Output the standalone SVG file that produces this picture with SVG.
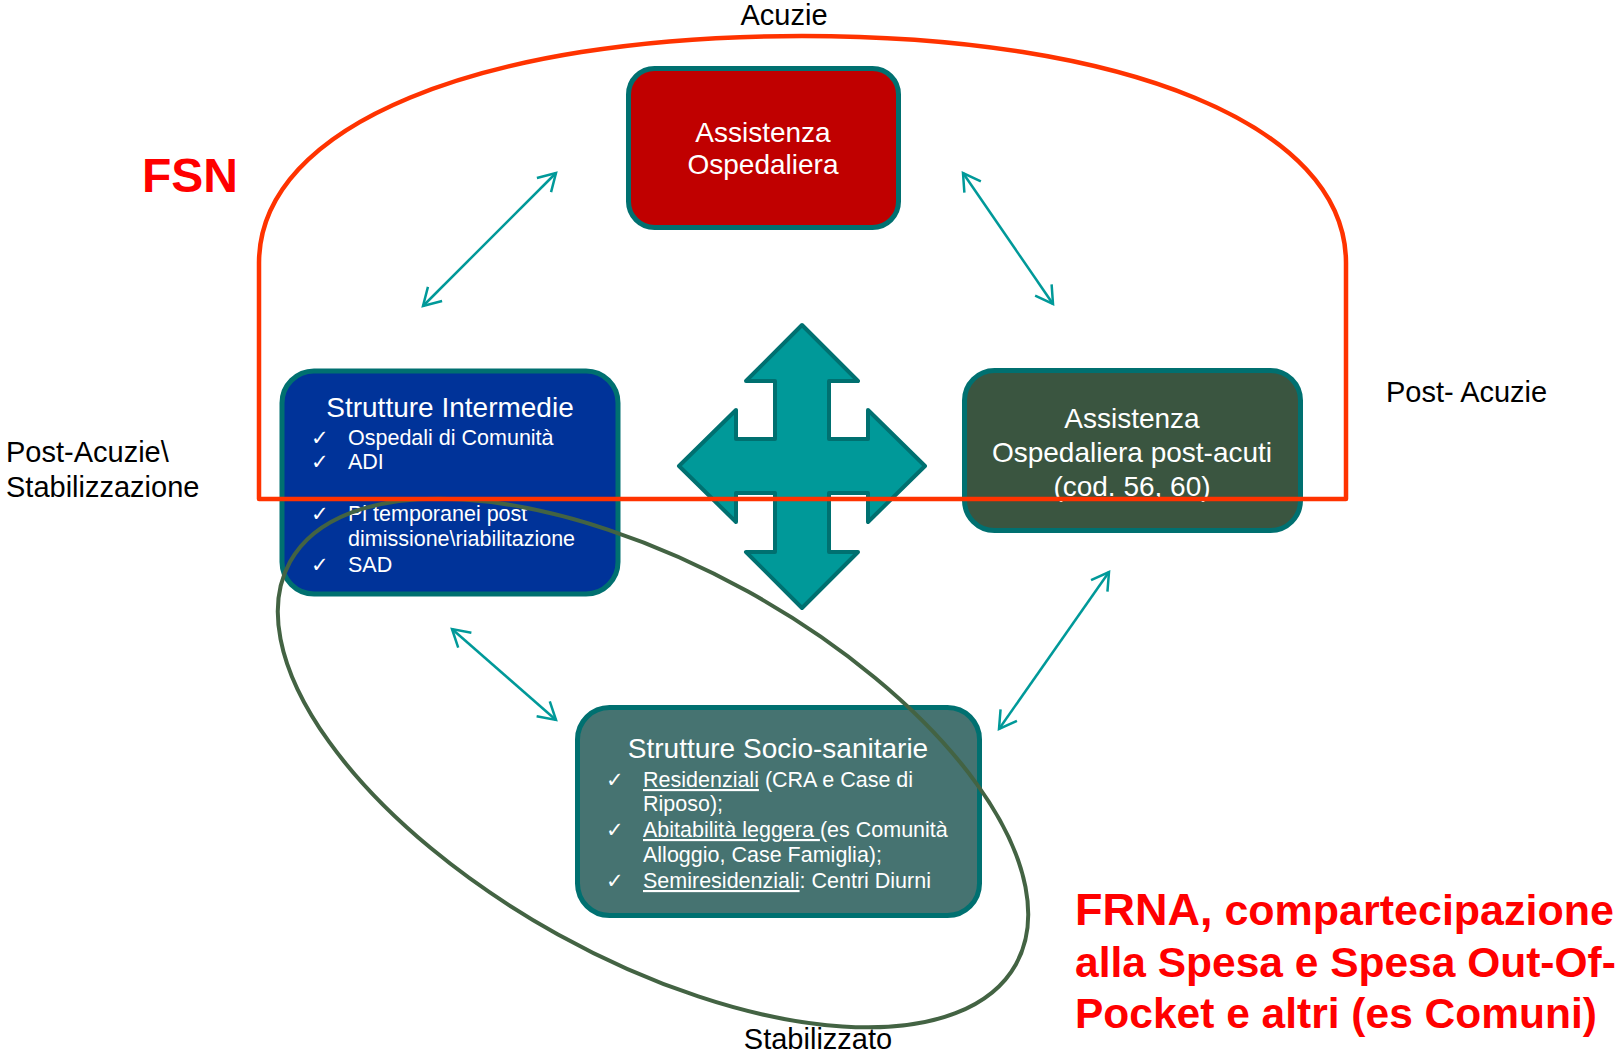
<svg xmlns="http://www.w3.org/2000/svg" width="1618" height="1056" viewBox="0 0 1618 1056">
<style>
.lbl{font-family:"Liberation Sans",Arial,sans-serif;font-size:29px;fill:#000}
.big{font-family:"Liberation Sans",Arial,sans-serif;font-weight:bold;fill:#FF0000}
.ttl{font-family:"Liberation Sans",Arial,sans-serif;font-size:28px;fill:#FFFFFF;text-anchor:middle}
.bul{font-family:"Liberation Sans",Arial,sans-serif;font-size:21.5px;fill:#FFFFFF}
.chk{font-family:"DejaVu Sans",sans-serif;font-size:21px;fill:#FFFFFF}
.box{stroke:#007070;stroke-width:5}
.conn{fill:none;stroke:#009999;stroke-width:2.5}
</style>
<defs>
<marker id="ah" markerUnits="userSpaceOnUse" markerWidth="24" markerHeight="24" refX="17" refY="10" orient="auto-start-reverse" viewBox="-2 -2 24 24">
<path d="M0,0 L17,10 L0,20" fill="none" stroke="#009999" stroke-width="2.5"/>
</marker>
<clipPath id="clipPl"><rect x="280" y="504" width="340" height="60"/></clipPath>
</defs>
<rect width="1618" height="1056" fill="#FFFFFF"/>

<g id="node-ospedaliera">
<rect class="box" x="628.5" y="68.5" width="270" height="159" rx="26" fill="#C00000"/>
<text class="ttl" x="763" y="142">Assistenza</text>
<text class="ttl" x="763" y="174">Ospedaliera</text>
</g>

<g id="node-intermedie">
<rect class="box" x="282" y="371" width="336" height="223" rx="32" fill="#003399"/>
<text class="ttl" x="450" y="417">Strutture Intermedie</text>
<text class="chk" x="311" y="445">✓</text><text class="bul" x="348" y="445">Ospedali di Comunità</text>
<text class="chk" x="311" y="469">✓</text><text class="bul" x="348" y="469">ADI</text>
<text class="chk" x="311" y="521">✓</text><text class="bul" x="348" y="521" clip-path="url(#clipPl)">Pl temporanei post</text>
<text class="bul" x="348" y="546">dimissione\riabilitazione</text>
<text class="chk" x="311" y="572">✓</text><text class="bul" x="348" y="572">SAD</text>
</g>

<g id="node-postacuti">
<rect class="box" x="964.5" y="370.5" width="336" height="160" rx="30" fill="#3A5540"/>
<text class="ttl" x="1132" y="428">Assistenza</text>
<text class="ttl" x="1132" y="462">Ospedaliera post-acuti</text>
<text class="ttl" x="1132" y="496">(cod. 56, 60)</text>
</g>

<g id="node-sociosanitarie">
<rect class="box" x="577.5" y="707.5" width="402" height="208" rx="32" fill="#467371"/>
<text class="ttl" x="778" y="758">Strutture Socio-sanitarie</text>
<text class="chk" x="606" y="787">✓</text><text class="bul" x="643" y="787"><tspan text-decoration="underline">Residenziali</tspan> (CRA e Case di</text>
<text class="bul" x="643" y="811">Riposo);</text>
<text class="chk" x="606" y="837">✓</text><text class="bul" x="643" y="837"><tspan text-decoration="underline">Abitabilità leggera </tspan>(es Comunità</text>
<text class="bul" x="643" y="862">Alloggio, Case Famiglia);</text>
<text class="chk" x="606" y="888">✓</text><text class="bul" x="643" y="888"><tspan text-decoration="underline">Semiresidenziali</tspan>: Centri Diurni</text>
</g>

<g id="node-cross">
<polygon points="802,325 858,381 829,381 829,439 868,439 868,410 925,466 868,522 868,493 829,493 829,552 858,552 802,608 746,552 775,552 775,493 736,493 736,522 679,466 736,410 736,439 775,439 775,381 746,381" fill="#009999" stroke="#007070" stroke-width="4" stroke-linejoin="round"/>
</g>

<g id="connectors">
<line class="conn" x1="423" y1="306" x2="556" y2="173" marker-start="url(#ah)" marker-end="url(#ah)"/>
<line class="conn" x1="963" y1="173" x2="1053" y2="304" marker-start="url(#ah)" marker-end="url(#ah)"/>
<line class="conn" x1="452" y1="629" x2="556" y2="720" marker-start="url(#ah)" marker-end="url(#ah)"/>
<line class="conn" x1="999" y1="729" x2="1109" y2="572" marker-start="url(#ah)" marker-end="url(#ah)"/>
</g>

<g id="area-stabilizzato">
<ellipse cx="653" cy="763" rx="415" ry="196" transform="rotate(29 653 763)" fill="none" stroke="#436343" stroke-width="4"/>
</g>

<g id="area-fsn">
<path d="M259,499 L259,263 C259,125 480,36 802,36 C1124,36 1346,125 1346,263 L1346,499 Z" fill="none" stroke="#FF3300" stroke-width="4.5" stroke-linejoin="round"/>
</g>

<g id="labels">
<text class="lbl" x="784" y="25" text-anchor="middle">Acuzie</text>
<text class="big" x="142" y="192" font-size="48">FSN</text>
<text class="lbl" x="1386" y="402">Post- Acuzie</text>
<text class="lbl" x="6" y="462">Post-Acuzie\</text>
<text class="lbl" x="6" y="497">Stabilizzazione</text>
<text class="lbl" x="818" y="1049" text-anchor="middle">Stabilizzato</text>
<text class="big" x="1075" y="925"><tspan font-size="45">FRNA,</tspan><tspan font-size="43"> compartecipazione</tspan></text>
<text class="big" x="1075" y="977" font-size="42.5">alla Spesa e Spesa Out-Of-</text>
<text class="big" x="1075" y="1028" font-size="42.5">Pocket e altri (es Comuni)</text>
</g>
</svg>
